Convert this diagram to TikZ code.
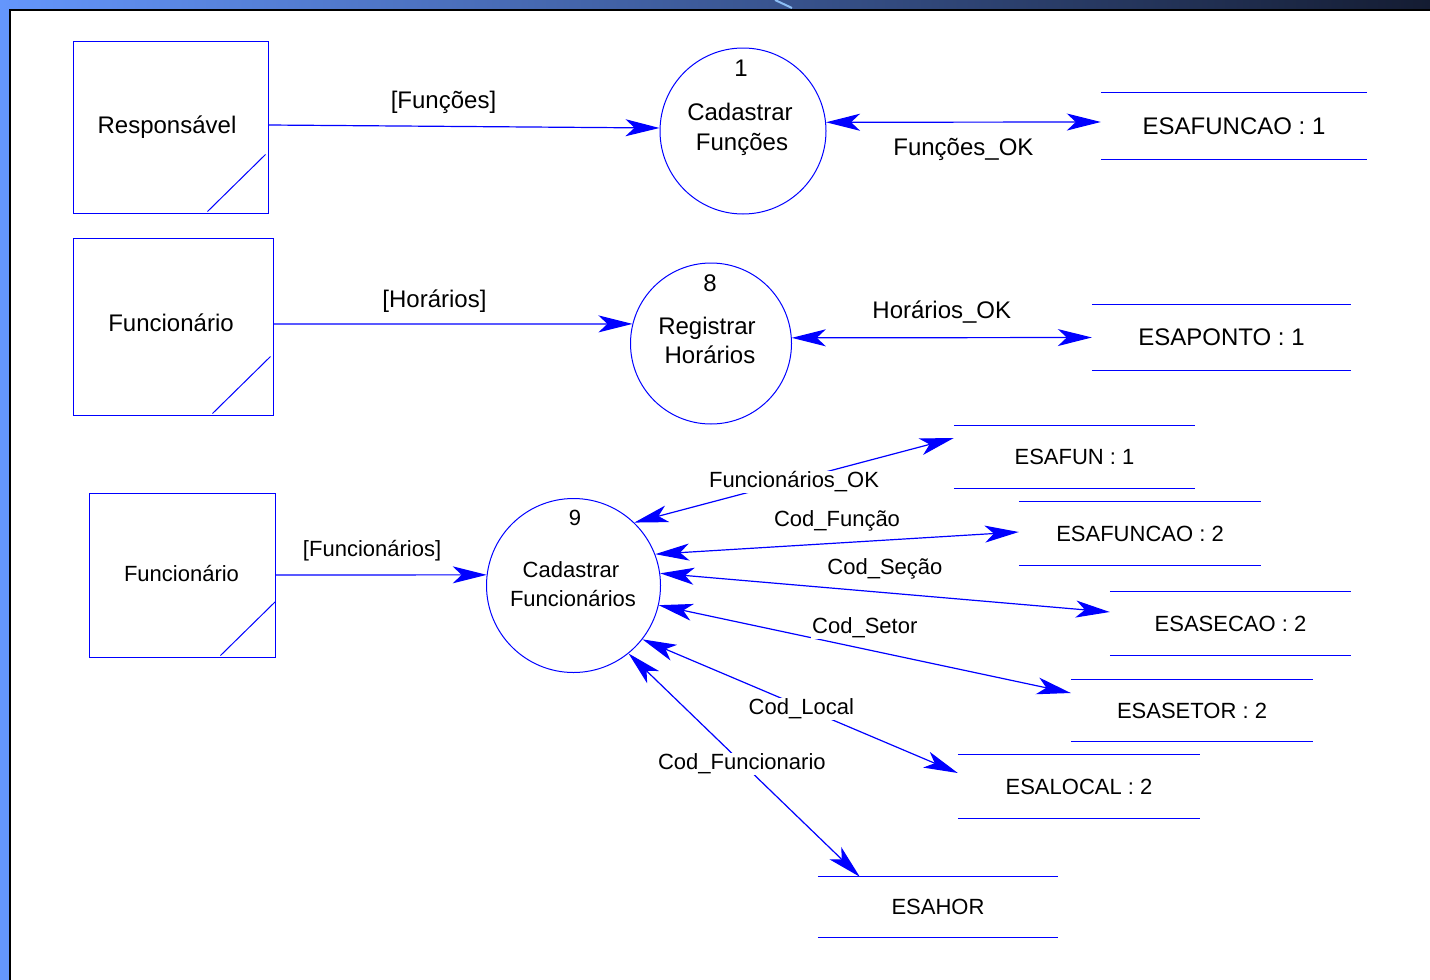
\documentclass[tikz,border=0pt]{standalone}
\usepackage{fontspec}
\setmainfont{Liberation Sans}
\usetikzlibrary{arrows.meta,calc}

\definecolor{flow}{RGB}{0,0,255}
\definecolor{frameblue}{RGB}{100,150,252}
\definecolor{framedark}{RGB}{20,28,50}
\definecolor{glint}{RGB}{140,190,245}

\tikzset{
  dfd/.tip={Stealth[length=34pt,width=17pt,inset=9pt]},
  big/.style={font=\fontsize{24}{28}\selectfont},
  small/.style={font=\fontsize{22}{26}\selectfont},
  txt/.style={anchor=base, inner sep=0pt, text=black},
  lbl/.style={anchor=base, inner sep=1pt, text=black},
  cut/.style={lbl, fill=white},
  entity/.style={draw=flow, line width=1pt, inner sep=0pt},
  process/.style={circle, draw=flow, line width=1pt, inner sep=0pt},
  store/.style={inner sep=0pt, text=black},
  storeline/.style={draw=flow, line width=1.1pt},
  flowline/.style={draw=flow, line width=1.2pt},
}

\begin{document}
\begin{tikzpicture}[x=1pt,y=-1pt]
\useasboundingbox (0,0) rectangle (1430,980);

% window frame
\fill[frameblue] (0,0) rectangle (1430,980);
\shade[left color=frameblue, right color=framedark] (0,0) rectangle (1430,9.5);
\draw[glint, line width=2pt] (775,0) -- (792,8);
\fill[white] (10,10) rectangle (1430,980);
\draw[black, line width=2pt] (10,980) -- (10,10) -- (1430,10);

% external entities
\node[entity, minimum width=195pt, minimum height=172pt] (e1) at (170.5,127) {};
\node[entity, minimum width=200pt, minimum height=177pt] (e2) at (173,326.5) {};
\node[entity, minimum width=186pt, minimum height=164pt] (e3) at (182,575) {};
\draw[flowline, line width=1pt] ([xshift=-61pt,yshift=2pt]e1.south east) -- ([xshift=-3pt,yshift=59pt]e1.south east);
\draw[flowline, line width=1pt] ([xshift=-61pt,yshift=2pt]e2.south east) -- ([xshift=-3pt,yshift=59pt]e2.south east);
\draw[flowline, line width=1pt] ([xshift=-55pt,yshift=2pt]e3.south east) -- ([xshift=0pt,yshift=56pt]e3.south east);
\node[txt, big] (e1t) at (167,133.3) {Responsável};
\node[txt, big] (e2t) at (171,331.7) {Funcionário};
\node[txt, small] (e3t) at (181.5,581.7) {Funcionário};

% processes
\node[process, minimum size=166pt] (c1) at (743,131) {};
\node[process, minimum size=161pt] (c8) at (711,343.5) {};
\node[process, minimum size=174pt] (c9) at (573.5,585.5) {};
\node[txt, big] (c1n) at (741,76.6) {1};
\node[txt, big] (c1a) at (740,120) {Cadastrar};
\node[txt, big] (c1b) at (742,150.5) {Funções};
\node[txt, big] (c8n) at (710,291.7) {8};
\node[txt, big] (c8a) at (707,334) {Registrar};
\node[txt, big] (c8b) at (710,363.3) {Horários};
\node[txt, small] (c9n) at (575,525) {9};
\node[txt, small] (c9a) at (571,577) {Cadastrar};
\node[txt, small] (c9b) at (573,606.7) {Funcionários};

% data stores
\node[store, big, minimum width=266pt, minimum height=66pt] (sf1) at (1234,126) {ESAFUNCAO : 1};
\node[store, big, minimum width=259pt, minimum height=65pt] (sp) at (1221.5,337.5) {ESAPONTO : 1};
\node[store, small, minimum width=241pt, minimum height=62pt] (sfun) at (1074.5,457) {ESAFUN : 1};
\node[store, small, minimum width=242pt, minimum height=63pt] (sf2) at (1140,533.5) {ESAFUNCAO : 2};
\node[store, small, minimum width=241pt, minimum height=63pt] (ssec) at (1230.5,623.5) {ESASECAO : 2};
\node[store, small, minimum width=242pt, minimum height=61pt] (sset) at (1192,710.5) {ESASETOR : 2};
\node[store, small, minimum width=242pt, minimum height=63pt] (sloc) at (1079,786.5) {ESALOCAL : 2};
\node[store, small, minimum width=240pt, minimum height=60pt] (shor) at (938,907) {ESAHOR};
\foreach \s in {sf1,sp,sfun,sf2,ssec,sset,sloc,shor}
  \draw[storeline] (\s.north west) -- (\s.north east) (\s.south west) -- (\s.south east);

% data flows
\draw[flowline, -dfd] ([yshift=2pt]e1.east) -- ([yshift=3pt]c1.west)
  node[lbl, big, pos=.5, xshift=-20.5pt, yshift=17.9pt] (l1) {[Funções]};
\draw[flowline, dfd-dfd] (c1.6) -- ([yshift=4pt]sf1.west)
  node[lbl, big, pos=.5, yshift=-33.6pt] (l2) {Funções\_OK};
\draw[flowline, -dfd] ([yshift=2.5pt]e2.east) -- (c8.166)
  node[lbl, big, pos=.5, xshift=-18.5pt, yshift=16.4pt] (l3) {[Horários]};
\draw[flowline, dfd-dfd] (c8.4) -- (sp.west)
  node[lbl, big, pos=.5, yshift=19.4pt] (l4) {Horários\_OK};
\draw[flowline, -dfd] (e3.east) -- (c9.173)
  node[lbl, small, pos=.5, xshift=-9pt, yshift=18pt] (l5) {[Funcionários]};
\draw[flowline, dfd-dfd] (c9.46) -- ([yshift=19pt]sfun.west)
  node[cut, small, pos=.5, yshift=-7.7pt] (l6) {Funcionários\_OK};
\draw[flowline, dfd-dfd] (c9.21) -- ([yshift=1.5pt]sf2.west)
  node[lbl, small, pos=.5, yshift=17pt] (l7) {Cod\_Função};
\draw[flowline, dfd-dfd] (c9.8) -- ([yshift=11.5pt]ssec.west)
  node[lbl, small, pos=.5, yshift=18pt] (l8) {Cod\_Seção};
\draw[flowline, dfd-dfd] (c9.-13) -- ([yshift=17.5pt]sset.west)
  node[cut, small, pos=.5, yshift=15.7pt] (l9) {Cod\_Setor};
\draw[flowline, dfd-dfd] (c9.-38) -- ([yshift=13.5pt]sloc.west)
  node[cut, small, pos=.5, xshift=1.2pt, yshift=-8.5pt] (l10) {Cod\_Local};
\draw[flowline, dfd-dfd] (c9.-51) -- ([xshift=42pt]shor.north west)
  node[cut, small, pos=.5, xshift=-2.3pt, yshift=-4.7pt] (l11) {Cod\_Funcionario};
\end{tikzpicture}
\end{document}
